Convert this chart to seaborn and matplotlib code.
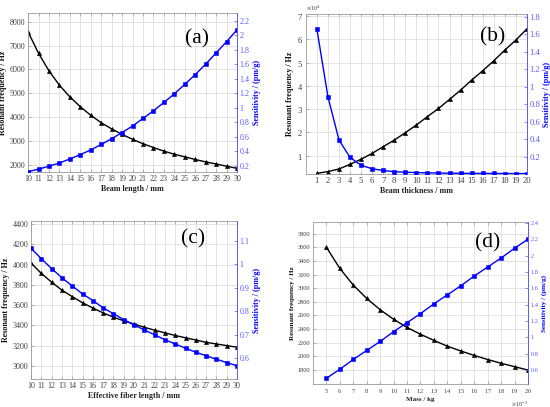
import numpy as np
import matplotlib
matplotlib.use("Agg")
import matplotlib.pyplot as plt
import seaborn as sns

sns.set_style("ticks")
plt.rcParams['font.family'] = ['Liberation Serif', 'DejaVu Serif']
plt.rcParams['mathtext.fontset'] = 'stix'

# ---------------- data ----------------
len_a = list(range(10, 31))
freq_a = [7570, 6680, 5940, 5340, 4850, 4440, 4080, 3770, 3510, 3280, 3075,
          2890, 2730, 2580, 2450, 2340, 2230, 2130, 2040, 1950, 1860]
sens_a = [0.12, 0.155, 0.195, 0.24, 0.295, 0.355, 0.42, 0.495, 0.575, 0.66, 0.75,
          0.855, 0.96, 1.075, 1.195, 1.325, 1.46, 1.605, 1.76, 1.915, 2.08]

thk_b = list(range(1, 21))
freq_b = [2400, 3200, 4300, 6300, 8500, 11000, 13900, 16700, 19900, 23200,
          26800, 30300, 34200, 38200, 42500, 46500, 50800, 55400, 59700, 64500]
sens_b = [1.66, 0.885, 0.39, 0.19, 0.10, 0.06, 0.04, 0.027, 0.02, 0.016,
          0.013, 0.011, 0.009, 0.008, 0.007, 0.0065, 0.006, 0.0055, 0.005, 0.005]

len_c = list(range(10, 31))
freq_c = [4016, 3913, 3826, 3748, 3684, 3623, 3571, 3523, 3481, 3445, 3413,
          3381, 3352, 3326, 3300, 3277, 3255, 3232, 3216, 3200, 3184]
sens_c = [1.067, 1.023, 0.981, 0.942, 0.907, 0.873, 0.845, 0.814, 0.789, 0.764, 0.741,
          0.720, 0.699, 0.678, 0.660, 0.642, 0.625, 0.610, 0.595, 0.581, 0.567]

mass_d = [0.005, 0.006, 0.007, 0.008, 0.009, 0.010, 0.011, 0.012, 0.013, 0.014,
          0.015, 0.016, 0.017, 0.018, 0.019, 0.020]
freq_d = [3600, 3290, 3045, 2850, 2685, 2545, 2425, 2325, 2235, 2150,
          2080, 2015, 1955, 1900, 1850, 1800]
sens_d = [0.50, 0.61, 0.73, 0.84, 0.95, 1.07, 1.18, 1.29, 1.41, 1.52,
          1.63, 1.75, 1.86, 1.97, 2.09, 2.20]

xlabels = ["Beam length / mm", "Beam thickness / mm", "Effective fiber length / mm", "Mass / kg"]
panel_tags = ["(a)", "(b)", "(c)", "(d)"]
ylabel_left = "Resonant frequency / Hz"
ylabel_right = "Sensitivity / (pm/g)"

BLUE = "#0000ff"
LBLUE = "#5a5aff"
GRID = "#dedede"
SPINE = "#9a9a9a"
TXT = "#404040"

fig = plt.figure(figsize=(5.5, 4.07), dpi=100)

positions = [
    [0.051, 0.577, 0.380, 0.391],
    [0.556, 0.5725, 0.402, 0.393],
    [0.0564, 0.0688, 0.3745, 0.388],
    [0.569, 0.0565, 0.391, 0.398],
]

cfg = [
    dict(x=len_a, f=freq_a, s=sens_a, xlim=(10, 30), xt=len_a,
         yl=(1700, 8360), yt=np.arange(2000, 8001, 1000),
         yr=(0.113, 2.31), yrt=np.round(np.arange(0.2, 2.21, 0.2), 1),
         tfs=5.8, lfs=5.8, tag=(0.81, 0.84)),
    dict(x=thk_b, f=freq_b, s=sens_b, xlim=(0, 20), xt=thk_b,
         yl=(2150, 70900), yt=np.arange(10000, 70001, 10000),
         yr=(0.0, 1.83), yrt=np.round(np.arange(0.2, 1.81, 0.2), 1),
         tfs=6.2, lfs=5.8, tag=(0.846, 0.856)),
    dict(x=len_c, f=freq_c, s=sens_c, xlim=(10, 30), xt=len_c,
         yl=(2870, 4430), yt=np.arange(3000, 4401, 200),
         yr=(0.511, 1.183), yrt=np.round(np.arange(0.6, 1.11, 0.1), 1),
         tfs=5.8, lfs=5.8, tag=(0.786, 0.89)),
    dict(x=mass_d, f=freq_d, s=sens_d, xlim=(0.004, 0.020), xt=mass_d,
         yl=(1596, 3970), yt=np.arange(1800, 3801, 200),
         yr=(0.43, 2.41), yrt=np.round(np.arange(0.6, 2.41, 0.2), 1),
         tfs=4.6, lfs=5.0, tag=(0.814, 0.87)),
]

for i, (pos, c) in enumerate(zip(positions, cfg)):
    ax = fig.add_axes(pos)
    ax2 = ax.twinx()

    sns.lineplot(x=c['x'], y=c['f'], ax=ax, color='black', marker='^', markersize=3,
                 linewidth=1.0)
    sns.lineplot(x=c['x'], y=c['s'], ax=ax2, color=BLUE, marker='s', markersize=2.4,
                 linewidth=1.0)
    for ln in ax2.lines:
        ln.set_markerfacecolor(BLUE)
        ln.set_markeredgecolor(BLUE)
        ln.set_markeredgewidth(0.4)
    for ln in ax.lines:
        ln.set_markerfacecolor('black')
        ln.set_markeredgecolor('black')
        ln.set_markeredgewidth(0.4)

    ax.set_xlim(*c['xlim'])
    ax.set_xticks(c['xt'])
    ax.set_ylim(*c['yl'])
    ax.set_yticks(c['yt'])
    ax2.set_ylim(*c['yr'])
    ax2.set_yticks(c['yrt'])
    ax2.set_yticklabels([f"{v:g}" for v in c['yrt']])

    ax.grid(True, color=GRID, linewidth=0.6)
    ax.set_axisbelow(True)
    ax2.grid(False)

    for sp in ['left', 'bottom', 'top']:
        ax.spines[sp].set_color(SPINE)
        ax.spines[sp].set_linewidth(0.6)
        ax2.spines[sp].set_visible(False)
    ax.spines['right'].set_visible(False)
    ax2.spines['right'].set_color(LBLUE)
    ax2.spines['right'].set_linewidth(0.7)

    ax.tick_params(axis='both', direction='in', length=2, width=0.5, color=SPINE,
                   labelsize=c['tfs'], labelcolor=TXT, pad=2, top=True)
    ax2.tick_params(axis='y', direction='in', length=2, width=0.5, color=LBLUE,
                    labelsize=c['tfs'], labelcolor=LBLUE, pad=2)

    ax.set_xlabel(xlabels[i], fontsize=c['lfs'], fontweight='bold', color='#222222', labelpad=1.5)
    ax.set_ylabel(ylabel_left, fontsize=c['lfs'], fontweight='bold', color='#111111', labelpad=2)
    ax2.set_ylabel(ylabel_right, fontsize=c['lfs'], fontweight='bold', color=BLUE, labelpad=2)

    if i == 1:
        ax.ticklabel_format(axis='y', style='sci', scilimits=(4, 4), useMathText=True)
        ax.yaxis.get_offset_text().set_fontsize(4.8)
        ax.yaxis.get_offset_text().set_color(TXT)
    if i == 3:
        ax.ticklabel_format(axis='x', style='sci', scilimits=(-3, -3), useMathText=True)
        ax.xaxis.get_offset_text().set_fontsize(4.6)
        ax.xaxis.get_offset_text().set_color(TXT)

    ax2.text(c['tag'][0], c['tag'][1], panel_tags[i], transform=ax2.transAxes,
             fontsize=15.5, ha='center', va='center', color='black')

fig.savefig("out.png", dpi=100)
